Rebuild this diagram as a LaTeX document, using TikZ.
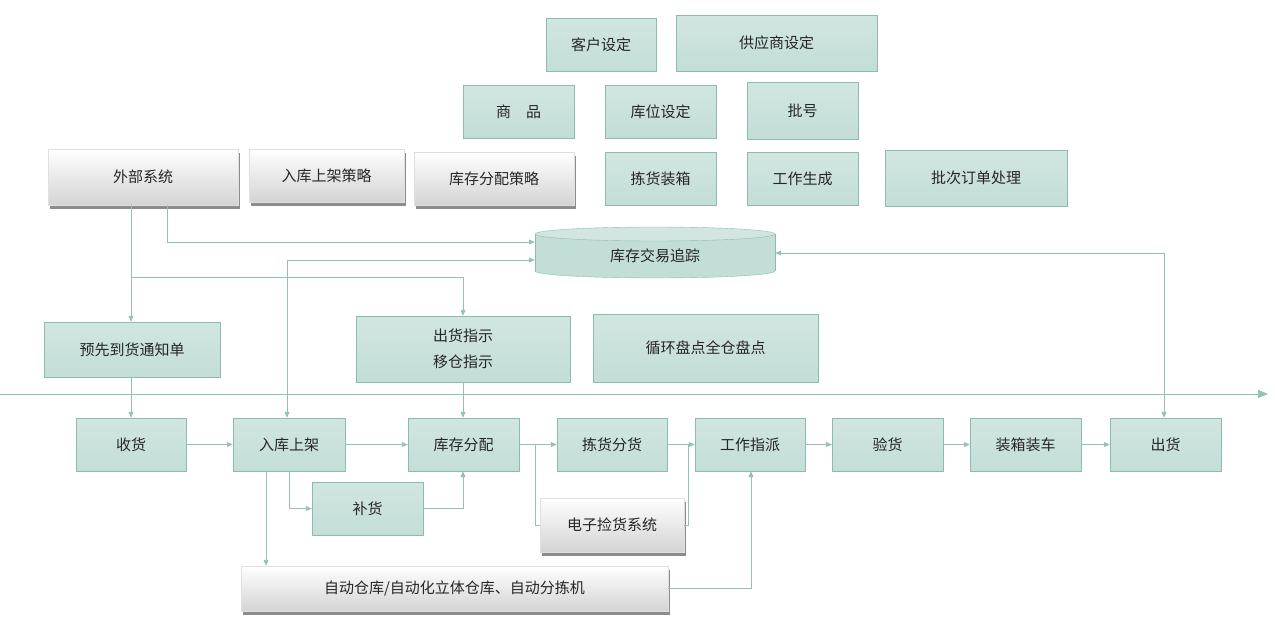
\documentclass[tikz,border=0pt]{standalone}
\usepackage{fontspec}
\setmainfont{Noto Sans CJK SC}
\usetikzlibrary{shadows,arrows.meta}
\definecolor{tealf}{HTML}{C3DDD7}
\definecolor{tealt}{HTML}{D2E6E1}
\definecolor{teald}{HTML}{8CBCB1}
\definecolor{lin}{HTML}{92C1B6}
\tikzset{
 box/.style={draw=teald, top color=tealt, bottom color=tealf, inner sep=0pt, font=\fontsize{15}{19}\selectfont, align=center, text=black!85},
 gbox/.style={draw=black!12, top color=white, bottom color=black!17, inner sep=0pt, font=\fontsize{15}{19}\selectfont, align=center, text=black!85, preaction={fill=black!60, opacity=0.75, transform canvas={shift={(1.5pt,-3.5pt)}}}},
 ln/.style={draw=lin, line width=0.9pt},
 ar/.style={ln, -{Triangle[length=6pt,width=5pt]}},
 dar/.style={ln, {Triangle[length=6pt,width=5pt]}-{Triangle[length=6pt,width=5pt]}},
}
\newcommand\bx[6]{\node[#1, minimum width=#4-#2, minimum height=#5-#3] (#6) at ({(#2+#4)/2},{(#3+#5)/2})}
\begin{document}
\begin{tikzpicture}[x=1pt,y=-1pt]
\useasboundingbox (0,0) rectangle (1275,629);
\bx{box}{546}{18}{656}{71}{kh} {客户设定};
\bx{box}{676}{15}{877}{71}{gys} {供应商设定};
\bx{box}{463}{85}{574}{138}{sp} {商\quad 品};
\bx{box}{605}{85}{716}{138}{kw} {库位设定};
\bx{box}{747}{82}{858}{139}{ph} {批号};
\bx{gbox}{48}{149}{238}{205}{wb} {外部系统};
\bx{gbox}{249}{149}{404}{202}{rkcl} {入库上架策略};
\bx{gbox}{414}{152}{574}{205}{fpcl} {库存分配策略};
\bx{box}{605}{152}{716}{205}{jhzx} {拣货装箱};
\bx{box}{747}{152}{858}{205}{gzsc} {工作生成};
\bx{box}{885}{150}{1067}{206}{pc} {批次订单处理};
% cylinder
\draw[teald, fill=tealf] (655,271) ellipse[x radius=120,y radius=7];
\fill[tealf] (535,234) rectangle (775,271);
\draw[teald] (535,234) -- (535,271) (775,234) -- (775,271);
\draw[teald,fill=tealt] (655,234) ellipse[x radius=120,y radius=7];
\node[inner sep=0pt, minimum width=240, minimum height=51, font=\fontsize{15}{19}\selectfont, text=black!85] (cyl) at (655,256) {库存交易追踪};
\bx{box}{44}{322}{220}{377}{yx} {预先到货通知单};
\bx{box}{356}{316}{570}{382}{ch} {出货指示\\[7pt]移仓指示};
\bx{box}{593}{314}{818}{382}{xh} {循环盘点全仓盘点};
% axis
\coordinate (a0) at (0,394); \coordinate (a1) at (1268,394);
\draw[ln, -{Triangle[length=10pt,width=8pt]}] (a0) -- (a1);
\bx{box}{76}{418}{186}{471}{sh} {收货};
\bx{box}{233}{418}{345}{471}{rk} {入库上架};
\bx{box}{408}{418}{519}{471}{fp} {库存分配};
\bx{box}{557}{418}{667}{471}{jh} {拣货分货};
\bx{box}{695}{418}{805}{471}{gz} {工作指派};
\bx{box}{832}{418}{943}{471}{yh} {验货};
\bx{box}{970}{418}{1081}{471}{zx} {装箱装车};
\bx{box}{1110}{418}{1221}{471}{chh} {出货};
\bx{box}{312}{482}{423}{535}{bh} {补货};
\bx{gbox}{540}{498}{684}{552}{dz} {电子捡货系统};
\bx{gbox}{241}{566}{668}{611}{zd} {自动仓库/自动化立体仓库、自动分拣机};
% connectors
\draw[ar] (wb.south -| 167,0) |- (cyl.west |- 0,242);
\draw[ar] (wb.south -| 131,0) -- (yx.north -| 131,0);
\draw[ar] (131,277) -| (ch.north -| 463,0);
\draw[dar] (rk.north -| 287,0) |- (cyl.west |- 0,260);
\draw[ar] (yx.south -| 131,0) -- (sh.north -| 131,0);
\draw[ar] (ch.south -| 463,0) -- (fp.north -| 463,0);
\draw[ar] (sh) -- (rk);
\draw[ar] (rk) -- (fp);
\draw[ar] (fp) -- (jh);
\draw[ln] (535,444) |- (dz.west);
\draw[ar] (jh) -- (gz);
\draw[ln] (dz.east) -| (688,444);
\draw[ar] (gz) -- (yh);
\draw[ar] (yh) -- (zx);
\draw[ar] (zx) -- (chh);
\draw[ar] (rk.south -| 289,0) |- (bh.west);
\draw[ar] (bh.east) -| (fp.south -| 463,0);
\draw[ar] (rk.south -| 266,0) -- (zd.north -| 266,0);
\draw[ar] (zd.east) -| (gz.south -| 751,0);
\draw[dar] (chh.north -| 1164,0) |- (cyl.east |- 0,253);
\end{tikzpicture}
\end{document}
